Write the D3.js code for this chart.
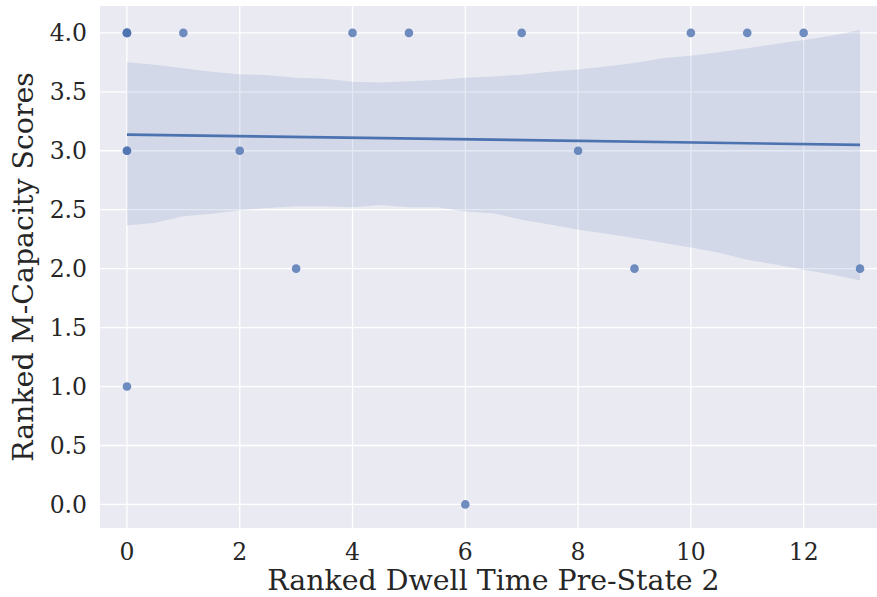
<!DOCTYPE html>
<html lang="en">
<head>
    <meta charset="UTF-8">
    <title>Ranked M-Capacity vs Dwell Time</title>
    <script src="https://d3js.org/d3.v7.min.js"></script>
    <style>
        body { margin: 0; background: #fff; }
        text { font-family: "DejaVu Serif", serif; fill: #262626; }
    </style>
</head>
<body>
<div id="chart"></div>

<script>
    // observations (rank of dwell time, rank of M-capacity)
    var dwellRank = [0, 0, 0, 0, 0, 0, 1, 2, 3, 4, 5, 6, 7, 8, 9, 10, 11, 12, 13];
    var mcapRank  = [4, 4, 4, 3, 3, 1, 4, 3, 2, 4, 4, 0, 4, 3, 2, 4, 4, 4, 2];

    // confidence band
    var bandX     = [0, 0.5, 1, 1.5, 2, 2.5, 3, 3.5, 4, 4.5, 5, 5.5, 6, 6.5, 7, 7.5, 8, 8.5, 9, 9.5, 10, 10.5, 11, 11.5, 12, 12.5, 13];
    var bandUpper = [3.75, 3.73, 3.70, 3.67, 3.65, 3.64, 3.62, 3.61, 3.585, 3.58, 3.59, 3.60, 3.62, 3.63, 3.645, 3.67, 3.69, 3.715, 3.745, 3.785, 3.805, 3.835, 3.87, 3.905, 3.94, 3.975, 4.025];
    var bandLower = [2.365, 2.39, 2.445, 2.465, 2.495, 2.515, 2.53, 2.53, 2.52, 2.54, 2.52, 2.52, 2.485, 2.47, 2.415, 2.375, 2.33, 2.295, 2.26, 2.22, 2.18, 2.135, 2.075, 2.035, 1.99, 1.95, 1.90];

    var xTicks = [0, 2, 4, 6, 8, 10, 12];
    var yTicks = [0, 0.5, 1, 1.5, 2, 2.5, 3, 3.5, 4];

    var w = 877, h = 597;
    var pl = 100, pr = 887, pt = 6, pb = 528;
    var blue = "#4C72B0";

    var svg = d3.select("#chart").append("svg")
        .attr("width", w)
        .attr("height", h);

    var x = d3.scaleLinear().domain([-0.478, 13.478]).range([pl, pr]);
    var y = d3.scaleLinear().domain([-0.2, 4.228]).range([pb, pt]);

    svg.append("rect")
        .attr("x", pl).attr("y", pt)
        .attr("width", pr - pl).attr("height", pb - pt)
        .attr("fill", "#EAEAF2");

    // grid
    svg.append("g").selectAll("line").data(xTicks).enter().append("line")
        .attr("x1", d => x(d)).attr("x2", d => x(d))
        .attr("y1", pt).attr("y2", pb)
        .attr("stroke", "#fff").attr("stroke-width", 1.3);
    svg.append("g").selectAll("line").data(yTicks).enter().append("line")
        .attr("x1", pl).attr("x2", pr)
        .attr("y1", d => y(d)).attr("y2", d => y(d))
        .attr("stroke", "#fff").attr("stroke-width", 1.3);

    // tick labels
    svg.append("g").selectAll("text").data(xTicks).enter().append("text")
        .attr("x", d => x(d)).attr("y", 560)
        .attr("text-anchor", "middle")
        .style("font-size", "23.5px")
        .text(d => d);
    svg.append("g").selectAll("text").data(yTicks).enter().append("text")
        .attr("x", 87).attr("y", d => y(d) + 8.5)
        .attr("text-anchor", "end")
        .style("font-size", "23.5px")
        .text(d => d.toFixed(1));

    // confidence band
    var band = d3.area()
        .x((d, i) => x(bandX[i]))
        .y0((d, i) => y(bandLower[i]))
        .y1((d, i) => y(bandUpper[i]));
    svg.append("path")
        .attr("d", band(bandX))
        .attr("fill", blue).attr("fill-opacity", 0.15);

    // scatter
    svg.append("g").selectAll("circle").data(dwellRank).enter().append("circle")
        .attr("cx", d => x(d))
        .attr("cy", (d, i) => y(mcapRank[i]))
        .attr("r", 4.3)
        .attr("fill", blue).attr("fill-opacity", 0.8);

    // least squares fit
    var mx = d3.mean(dwellRank), my = d3.mean(mcapRank);
    var sxy = d3.sum(dwellRank, (d, i) => (d - mx) * (mcapRank[i] - my));
    var sxx = d3.sum(dwellRank, d => (d - mx) * (d - mx));
    var slope = sxy / sxx, intercept = my - slope * mx;
    var xr = d3.extent(dwellRank);
    svg.append("path")
        .attr("d", d3.line().x(d => x(d)).y(d => y(intercept + slope * d))(xr))
        .attr("stroke", blue).attr("stroke-width", 2.7).attr("fill", "none");

    // axis labels
    svg.append("text")
        .attr("x", (pl + pr) / 2).attr("y", 590)
        .attr("text-anchor", "middle")
        .style("font-size", "28.4px")
        .text("Ranked Dwell Time Pre-State 2");
    svg.append("text")
        .attr("transform", "translate(33," + ((pt + pb) / 2) + ") rotate(-90)")
        .attr("text-anchor", "middle")
        .style("font-size", "28.4px")
        .text("Ranked M-Capacity Scores");
</script>
</body>
</html>
